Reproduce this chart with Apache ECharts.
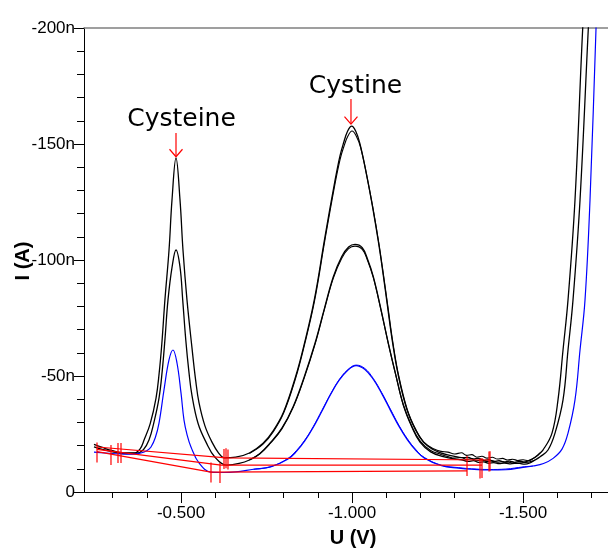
<!DOCTYPE html>
<html><head><meta charset="utf-8">
<script src="https://cdn.jsdelivr.net/npm/echarts@6/dist/echarts.min.js"></script>
<style>html,body{margin:0;padding:0;background:#fff}#c{width:608px;height:549px}</style>
</head><body><div id="c"></div>
<script>
// ---- data (U in V, I in nA) ----
const highU = [-0.2456,-0.27,-0.30,-0.33,-0.3626,-0.38,-0.392,-0.41,-0.427,-0.436,-0.444,-0.453,-0.465,-0.4737,-0.4854,-0.4971,-0.5058,-0.5175,-0.5322,-0.543,-0.5526,-0.57,-0.5906,-0.61,-0.626,-0.66,-0.70,-0.74,-0.77,-0.80,-0.835,-0.86,-0.89,-0.921,-0.95,-0.965,-0.975,-0.987,-0.999,-1.011,-1.023,-1.043,-1.06,-1.077,-1.09,-1.103,-1.118,-1.135,-1.16,-1.185,-1.209,-1.237,-1.257,-1.28,-1.30,-1.32,-1.34,-1.355,-1.37,-1.385,-1.40,-1.415,-1.43,-1.445,-1.46,-1.475,-1.49,-1.505,-1.52,-1.535,-1.545,-1.5585,-1.5848,-1.6023,-1.617,-1.6316,-1.652,-1.6746,-1.69];
const highI = [-20.5,-19.2,-17.8,-16.9,-16.8,-18.5,-22.4,-29.5,-40.5,-51.0,-64.0,-82.8,-104.3,-125.9,-144.0,-125.9,-104.3,-82.8,-62.0,-48.0,-38.5,-28.5,-21.5,-16.8,-14.7,-15.0,-16.8,-21.0,-26.5,-34.5,-49.7,-63.5,-83.0,-110.0,-134.0,-145.0,-150.3,-155.5,-157.7,-155.5,-150.3,-136.5,-123.0,-108.0,-95.0,-81.0,-65.0,-50.5,-35.8,-27.0,-21.5,-18.3,-17.0,-16.0,-15.4,-14.8,-14.9,-14.2,-14.5,-13.6,-13.9,-13.2,-13.5,-12.9,-13.3,-12.8,-13.2,-13.0,-13.8,-15.0,-16.2,-18.1,-25.4,-39.7,-61.2,-82.8,-125.9,-200,-240];

const midU = [-0.2456,-0.27,-0.30,-0.33,-0.37,-0.39,-0.4064,-0.42,-0.4357,-0.445,-0.4532,-0.462,-0.474,-0.4854,-0.4971,-0.505,-0.514,-0.523,-0.5322,-0.55,-0.5731,-0.5994,-0.6345,-0.67,-0.70,-0.73,-0.76,-0.795,-0.8285,-0.86,-0.8918,-0.92,-0.9454,-0.97,-0.99,-1.0088,-1.03,-1.045,-1.0623,-1.085,-1.1062,-1.128,-1.15,-1.175,-1.1988,-1.23,-1.267,-1.30,-1.32,-1.34,-1.355,-1.37,-1.385,-1.40,-1.415,-1.43,-1.445,-1.46,-1.475,-1.49,-1.505,-1.52,-1.5351,-1.55,-1.5731,-1.5936,-1.617,-1.6316,-1.6462,-1.6667,-1.691,-1.705];
const midI = [-19.5,-18.4,-17.3,-16.6,-16.7,-18.2,-22.4,-29.5,-40.5,-52.0,-66.0,-82.8,-97.0,-104.3,-97.0,-82.8,-65.5,-52.0,-41.5,-29.5,-21.5,-15.0,-11.6,-12.3,-13.8,-16.5,-21.0,-27.5,-37.0,-49.5,-64.1,-79.5,-92.8,-101.5,-105.6,-106.7,-105.3,-100.5,-92.8,-78.5,-64.1,-50.5,-37.5,-28.0,-21.5,-17.3,-15.2,-14.2,-13.9,-13.2,-13.5,-12.8,-13.0,-12.4,-12.7,-12.2,-12.5,-12.1,-12.4,-12.3,-12.0,-12.5,-13.8,-15.2,-18.1,-25.4,-39.7,-61.2,-82.8,-125.9,-200,-240];

const blueU = [-0.2456,-0.28,-0.3246,-0.36,-0.383,-0.40,-0.4123,-0.425,-0.4357,-0.4503,-0.4649,-0.4766,-0.4883,-0.50,-0.5088,-0.518,-0.5292,-0.5526,-0.5877,-0.6257,-0.66,-0.712,-0.762,-0.812,-0.837,-0.862,-0.887,-0.912,-0.937,-0.962,-0.987,-1.012,-1.037,-1.062,-1.087,-1.112,-1.137,-1.162,-1.187,-1.212,-1.262,-1.312,-1.35,-1.40,-1.45,-1.50,-1.5292,-1.56,-1.588,-1.614,-1.6316,-1.652,-1.6667,-1.6813,-1.6959,-1.7135,-1.725];
const blueI = [-17.2,-16.8,-16.4,-16.3,-16.8,-17.8,-19.4,-23.5,-29.7,-44.0,-56.9,-61.2,-55.6,-42.7,-31.0,-24.5,-19.4,-12.5,-8.6,-8.4,-8.7,-9.8,-10.8,-14.1,-17.4,-22.0,-27.9,-34.8,-41.9,-48.1,-52.4,-54.5,-52.9,-48.6,-42.4,-35.3,-28.4,-22.5,-17.9,-14.6,-11.3,-10.3,-9.8,-9.5,-9.6,-10.6,-11.2,-12.3,-14.5,-18.5,-25.4,-39.7,-61.2,-82.8,-125.9,-200,-250];

// repeat scans (only where they separate visibly)
const high2U = [-0.70,-0.74,-0.77,-0.80,-0.835,-0.86,-0.89,-0.921,-0.95,-0.965,-0.975,-0.988,-1.000,-1.012,-1.025,-1.045,-1.062,-1.079,-1.092,-1.105,-1.12,-1.137,-1.162,-1.187,-1.211,-1.24,-1.26,-1.28,-1.30,-1.32,-1.335,-1.35,-1.365,-1.38,-1.395,-1.41,-1.425,-1.44,-1.455,-1.47,-1.485,-1.50,-1.515,-1.53,-1.545,-1.5585];
const high2I = [-16.6,-20.6,-26.0,-34.0,-49.0,-62.8,-82.0,-108.8,-132.6,-143.3,-148.4,-153.4,-155.6,-153.6,-148.6,-135.0,-121.8,-106.8,-93.6,-79.8,-64.0,-49.8,-35.4,-26.8,-21.4,-18.5,-17.5,-17.2,-16.4,-16.9,-15.8,-16.1,-15.0,-15.4,-14.6,-15.0,-14.2,-14.5,-13.8,-14.1,-13.6,-13.9,-13.5,-14.4,-16.0,-18.1];
const mid2U = [-0.70,-0.73,-0.76,-0.795,-0.8285,-0.86,-0.8918,-0.92,-0.9454,-0.97,-0.99,-1.0088,-1.03,-1.045,-1.0623,-1.085,-1.1062,-1.128,-1.15,-1.175,-1.2,-1.23,-1.26,-1.28,-1.30,-1.32,-1.335,-1.35,-1.365,-1.38,-1.395,-1.41,-1.425,-1.44,-1.455,-1.47,-1.485,-1.50,-1.515,-1.53,-1.5351];
const mid2I = [-13.8,-16.4,-20.8,-27.2,-36.6,-49.0,-63.6,-79.0,-92.2,-100.8,-104.9,-106.0,-104.6,-100.0,-92.4,-78.2,-64.0,-50.4,-37.6,-28.3,-21.8,-17.9,-16.2,-15.3,-14.6,-14.9,-14.0,-14.4,-13.5,-13.9,-13.1,-13.4,-12.8,-13.1,-12.6,-12.9,-12.4,-12.7,-12.8,-13.5,-13.8];
const blue2U = [-0.712,-0.762,-0.812,-0.837,-0.862,-0.887,-0.912,-0.937,-0.962,-0.987,-1.012,-1.037,-1.062,-1.087,-1.112,-1.137,-1.162,-1.187,-1.212,-1.262,-1.312,-1.35,-1.40,-1.45,-1.50,-1.5292];
const blue2I = [-9.8,-10.9,-14.4,-17.8,-22.4,-28.3,-35.2,-42.2,-48.3,-52.6,-54.7,-53.3,-49.0,-42.8,-35.8,-28.8,-22.9,-18.2,-14.8,-11.5,-10.5,-10.0,-9.7,-9.9,-10.8,-11.2];

// baselines (red)
const baseHighU = [-0.2544,-0.6316,-1.4006]; const baseHighI = [-19.4,-14.7,-13.8];
const baseMidU  = [-0.2544,-0.617,-1.3801];  const baseMidI  = [-18.4,-11.6,-11.6];
const baseBlueU = [-0.2544,-0.5877,-1.3363]; const baseBlueI = [-17.4,-8.6,-9.1];
// baseline end markers
const markU = [-0.2544,-0.2953,-0.3158,-0.3246,-0.5877,-0.614,-0.6257,-0.6316,-0.6374,-1.3363,-1.3743,-1.3801,-1.4006,-1.4035];
const markI = [-17.0,-15.9,-16.8,-16.8,-8.4,-8.2,-14.2,-14.5,-14.0,-11.2,-10.1,-10.3,-13.1,-13.3];

// annotations
const annoText = ['Cysteine','Cystine'];
const annoU = [-0.4854,-0.997];
const annoTipI = [-144.5,-158.6];
const annoTailI = [-154.7,-169.4];
const annoLabelU = [-0.5015,-1.0102];
const annoLabelI = [-160.5,-174.6];

// axes
const xMin = -1.7485, xMax = -0.2164;
const xTickVals = [-0.3,-0.4,-0.5,-0.6,-0.7,-0.8,-0.9,-1.0,-1.1,-1.2,-1.3,-1.4,-1.5,-1.6,-1.7];
const xLabelVals = [-0.5,-1.0,-1.5];
const yTickVals = [-200,-190,-180,-170,-160,-150,-140,-130,-120,-110,-100,-90,-80,-70,-60,-50,-40,-30,-20,-10,0];
const yLabelVals = [-200,-150,-100,-50,0];

const pairs = (u, i) => u.map((v, k) => [v, i[k]]);
const chart = echarts.init(document.getElementById('c'), null, {renderer: 'canvas'});
const FONT = '"Liberation Sans", Arial, sans-serif';

function curve(u, i, color, w) {
  return {type: 'line', data: pairs(u, i), showSymbol: false, symbol: 'none',
    smooth: 0.4, lineStyle: {color: color, width: w}, silent: true, animation: false};
}
function base(u, i) {
  return {type: 'line', data: pairs(u, i), showSymbol: false, symbol: 'none',
    lineStyle: {color: '#ff0000', width: 1.2}, silent: true, animation: false, z: 5};
}

const option = {
  animation: false,
  backgroundColor: '#fff',
  grid: {left: 84, right: 0, top: 28, bottom: 57, containLabel: false},
  xAxis: [
    {type: 'value', min: xMin, max: xMax, inverse: true, position: 'bottom',
      axisLine: {show: true, lineStyle: {color: '#000', width: 1}},
      axisTick: {show: true, customValues: xTickVals, length: 6, lineStyle: {color: '#000', width: 1}},
      axisLabel: {show: false}, splitLine: {show: false}},
    {type: 'value', min: xMin, max: xMax, inverse: true, position: 'bottom',
      axisLine: {show: false},
      axisTick: {show: true, customValues: xLabelVals, length: 11, lineStyle: {color: '#000', width: 1}},
      axisLabel: {show: true, customValues: xLabelVals, formatter: v => Number(v).toFixed(3),
        margin: 13, fontSize: 17, fontFamily: FONT, color: '#000'},
      splitLine: {show: false}},
    {type: 'value', min: xMin, max: xMax, inverse: true, position: 'top',
      axisLine: {show: true, lineStyle: {color: '#808080', width: 1.5}},
      axisTick: {show: false}, axisLabel: {show: false}, splitLine: {show: false}}
  ],
  yAxis: [
    {type: 'value', min: -200, max: 0, inverse: true, position: 'left',
      axisLine: {show: true, lineStyle: {color: '#000', width: 1}},
      axisTick: {show: true, customValues: yTickVals, length: 7, lineStyle: {color: '#000', width: 1}},
      axisLabel: {show: false}, splitLine: {show: false}},
    {type: 'value', min: -200, max: 0, inverse: true, position: 'left',
      axisLine: {show: false},
      axisTick: {show: true, customValues: yLabelVals, length: 10, lineStyle: {color: '#000', width: 1}},
      axisLabel: {show: true, customValues: yLabelVals, formatter: v => (v === 0 ? '0' : v + 'n'),
        margin: 9, fontSize: 17, fontFamily: FONT, color: '#000', padding: [0, 0, 10, 0]},
      splitLine: {show: false}}
  ],
  series: [
    curve(highU, highI, '#000', 1.3),
    curve(high2U, high2I, '#000', 1.1),
    curve(midU, midI, '#000', 1.3),
    curve(mid2U, mid2I, '#000', 1.1),
    curve(blueU, blueI, '#0000ff', 1.2),
    curve(blue2U, blue2I, '#0000ff', 1.0),
    base(baseHighU, baseHighI),
    base(baseMidU, baseMidI),
    base(baseBlueU, baseBlueI),
    {type: 'scatter', data: pairs(markU, markI), symbol: 'rect', symbolSize: [1.5, 20],
      itemStyle: {color: '#ff0000'}, silent: true, animation: false, z: 6}
  ]
};
chart.setOption(option);

const g = [];
annoU.forEach((u, k) => {
  const tip = chart.convertToPixel({xAxisIndex: 0, yAxisIndex: 0}, [u, annoTipI[k]]);
  const tail = chart.convertToPixel({xAxisIndex: 0, yAxisIndex: 0}, [u, annoTailI[k]]);
  const lp = chart.convertToPixel({xAxisIndex: 0, yAxisIndex: 0}, [annoLabelU[k], annoLabelI[k]]);
  g.push({type: 'line', shape: {x1: tip[0], y1: tail[1], x2: tip[0], y2: tip[1]},
    style: {stroke: '#ff0000', lineWidth: 1.2}, z: 10});
  g.push({type: 'polyline', shape: {points: [[tip[0] - 6.5, tip[1] - 7.5], [tip[0], tip[1]], [tip[0] + 6.5, tip[1] - 7.5]]},
    style: {stroke: '#ff0000', fill: null, lineWidth: 1.2}, z: 10});
  g.push({type: 'text', x: lp[0], y: lp[1], z: 10,
    style: {text: annoText[k], fontSize: 25, fontFamily: '"DejaVu Sans", sans-serif', fill: '#000',
      align: 'center', verticalAlign: 'middle', textAlign: 'center', textVerticalAlign: 'middle'}});
});
g.push({type: 'text', x: 353, y: 538, z: 10,
  style: {text: 'U (V)', fontSize: 20, fontWeight: 'bold', fontFamily: FONT, fill: '#000',
    align: 'center', verticalAlign: 'middle', textAlign: 'center', textVerticalAlign: 'middle'}});
g.push({type: 'text', x: 23, y: 261, rotation: Math.PI / 2, z: 10,
  style: {text: 'I (A)', fontSize: 20, fontWeight: 'bold', fontFamily: FONT, fill: '#000',
    align: 'center', verticalAlign: 'middle', textAlign: 'center', textVerticalAlign: 'middle'}});
chart.setOption({graphic: {elements: g}});
</script>
</body></html>
